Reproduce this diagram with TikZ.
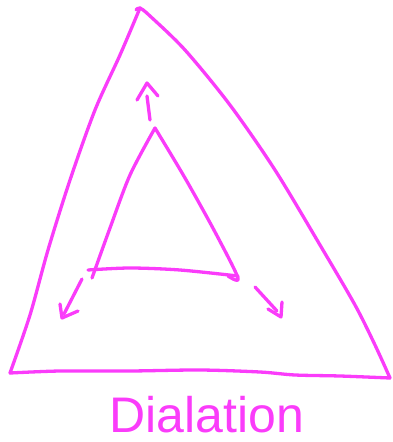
\documentclass[tikz,border=0pt]{standalone}
\usepackage{fontspec}
\setmainfont{Liberation Sans}
\definecolor{pen}{RGB}{250,60,250}
\begin{document}
\begin{tikzpicture}[x=1pt,y=-1pt,
  ink/.style={draw=pen,line width=3.3pt,line cap=round,line join=round}]
\useasboundingbox (0,0) rectangle (392,442);
% outer triangle
\coordinate (OA) at (140,8);
\coordinate (OL) at (10,373);
\coordinate (OR) at (390,378);
\draw[ink] plot[smooth,tension=0.5] coordinates {(136,10) (140,8) (150,16) (185,50) (230,105) (275,170) (320,245) (355,305) (375,345) (390,378)};
\draw[ink] plot[smooth,tension=0.5] coordinates {(140,8) (120,55) (95,110) (70,180) (48,250) (30,315) (10,373)};
\draw[ink] plot[smooth,tension=0.5] coordinates {(10,373) (60,371) (130,371) (200,370) (260,372) (295,375) (340,376) (390,378)};
% inner triangle
\coordinate (IA) at (155,128);
\coordinate (IL) at (92,272);
\coordinate (IR) at (238,278);
\draw[ink] plot[smooth,tension=0.5] coordinates {(92,278) (110,228) (130,175) (155,128)};
\draw[ink] plot[smooth,tension=0.5] coordinates {(155,128) (185,178) (215,232) (238,278) (228,276)};
\draw[ink] plot[smooth,tension=0.5] coordinates {(88,270) (130,268) (180,270) (238,276)};
% arrows
\draw[ink] (150,120) -- (147,96);
\draw[ink] (137,100) -- (147,83) -- (158,96);
\draw[ink] (82,279) -- (64,314);
\draw[ink] (60,304) -- (62,318) -- (78,311);
\draw[ink] (255,287) -- (277,311);
\draw[ink] (268,309) -- (281,317) -- (282,302);
% label
\node[text=pen,font=\fontsize{50}{50}\selectfont,anchor=base,inner sep=0pt] (lbl) at (207,432) {Dialation};
\end{tikzpicture}
\end{document}
